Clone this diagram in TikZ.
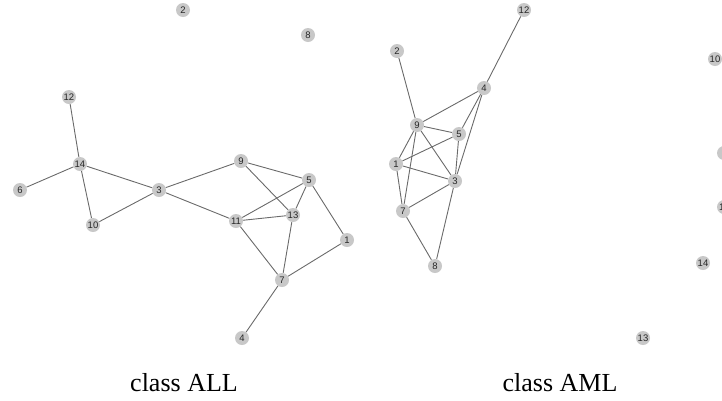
\documentclass[tikz,border=0pt]{standalone}
\usepackage{fontspec}
\setmainfont{Liberation Serif}
\newfontfamily\nodefont{Liberation Sans}
\definecolor{vfill}{HTML}{C8C8C8}
\definecolor{edgecol}{HTML}{6A6A6A}
\begin{document}
\begin{tikzpicture}[x=1pt,y=-1pt,
  vertex/.style={circle,fill=vfill,draw=none,minimum size=14pt,inner sep=0pt,
    font=\nodefont\fontsize{9.5}{9.5}\selectfont,text=black!85},
  link/.style={draw=edgecol,line width=0.9pt},
  caption/.style={font=\fontsize{26}{26}\selectfont,anchor=base}]
\useasboundingbox (0,0) rectangle (722,400);
\clip (0,0) rectangle (722,400);

% class ALL network
\node[vertex] (a2)  at (183,10)  {2};
\node[vertex] (a8)  at (308,35)  {8};
\node[vertex] (a12) at (69,97)   {12};
\node[vertex] (a14) at (80,164)  {14};
\node[vertex] (a6)  at (20,190)  {6};
\node[vertex] (a3)  at (159,190) {3};
\node[vertex] (a9)  at (241,161) {9};
\node[vertex] (a5)  at (309,180) {5};
\node[vertex] (a10) at (93,225)  {10};
\node[vertex] (a11) at (236,221) {11};
\node[vertex] (a13) at (293,215) {13};
\node[vertex] (a1)  at (347,240) {1};
\node[vertex] (a7)  at (282,280) {7};
\node[vertex] (a4)  at (242,338) {4};

\foreach \u/\v in {a12/a14,a14/a6,a14/a3,a14/a10,a10/a3,a3/a9,a3/a11,
  a9/a5,a9/a13,a5/a11,a5/a13,a5/a1,a11/a13,a11/a7,a13/a7,a1/a7,a7/a4}
  \draw[link] (\u) -- (\v);

% class AML network
\node[vertex] (b12) at (524,10)  {12};
\node[vertex] (b2)  at (397,51)  {2};
\node[vertex] (b4)  at (484,88)  {4};
\node[vertex] (b9)  at (417,125) {9};
\node[vertex] (b5)  at (459,134) {5};
\node[vertex] (b1)  at (396,164) {1};
\node[vertex] (b3)  at (455,181) {3};
\node[vertex] (b7)  at (403,211) {7};
\node[vertex] (b8)  at (435,266) {8};
\node[vertex] (b10) at (715,59)  {10};
\node[vertex] (b6)  at (724,153) {};
\node[vertex] (b11) at (724,207) {11};
\node[vertex] (b14) at (703,263) {14};
\node[vertex] (b13) at (643,338) {13};

\foreach \u/\v in {b12/b4,b2/b9,b4/b9,b4/b5,b4/b3,b9/b5,b9/b1,b9/b7,b9/b3,
  b5/b1,b5/b3,b1/b3,b1/b7,b7/b3,b7/b8,b8/b3}
  \draw[link] (\u) -- (\v);

\node[caption] (capall) at (184,391) {class ALL};
\node[caption] (capaml) at (560,391) {class AML};
\end{tikzpicture}
\end{document}
